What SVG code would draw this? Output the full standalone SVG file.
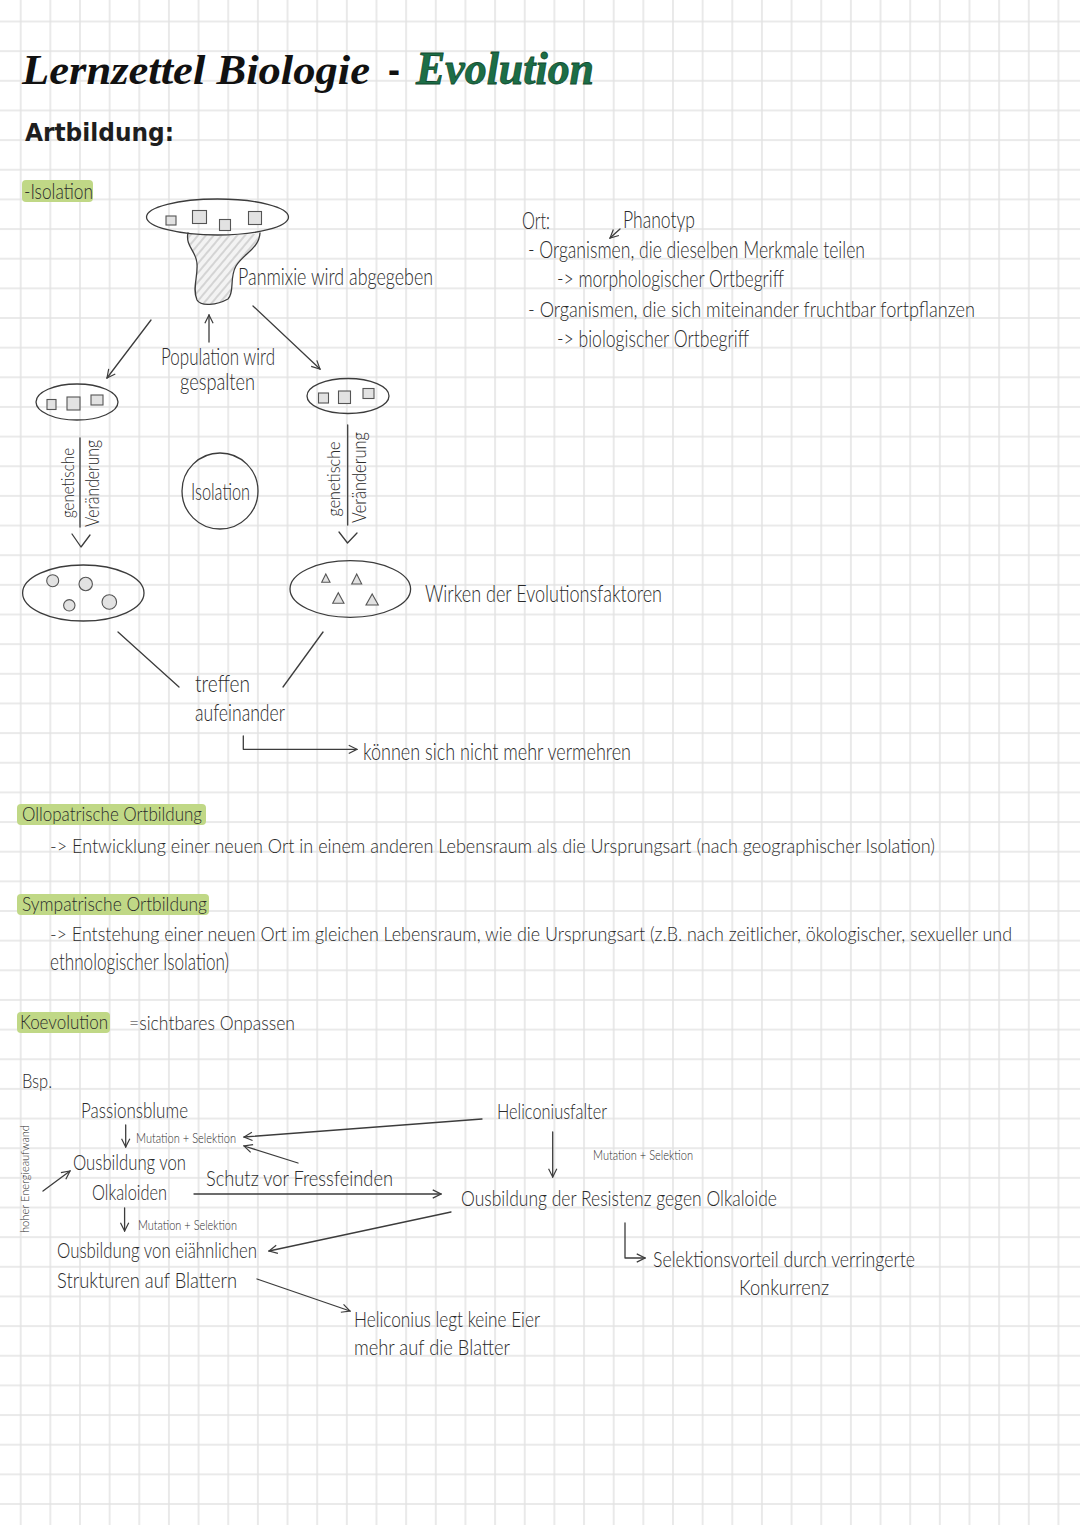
<svg xmlns="http://www.w3.org/2000/svg" width="1080" height="1525" viewBox="0 0 1080 1525">
<defs>
<style>
.t{font-family:Lato,"Open Sans","DejaVu Sans",sans-serif;font-weight:300;fill:#2b2b2b;font-size:23px}
.s{font-size:14px}
.h{font-size:19px}
.ln{stroke:#3c3c3c;stroke-width:1.3;fill:none;stroke-linecap:round;stroke-linejoin:round}
.arr{marker-end:url(#chev)}
.sh{fill:#e2e2e2;stroke:#555;stroke-width:1.1}
.hl{fill:#c0d886}
</style>
<pattern id="grid" x="5.875" y="6.675" width="29.65" height="29.65" patternUnits="userSpaceOnUse">
<path d="M0 14.825H29.65M14.825 0V29.65" stroke="#e3e3e3" stroke-width="1.5" fill="none"/>
</pattern>
<pattern id="hatch" width="6" height="6" patternUnits="userSpaceOnUse" patternTransform="rotate(40)">
<rect width="6" height="6" fill="#f3f3f3"/>
<path d="M3 0V6" stroke="#b5b5b5" stroke-width="1"/>
</pattern>
<marker id="chev" viewBox="0 0 12 12" refX="11" refY="6" markerWidth="11" markerHeight="11" markerUnits="userSpaceOnUse" orient="auto">
<path d="M2,1.5 L11,6 L2,10.5" fill="none" stroke="#3c3c3c" stroke-width="1.3"/>
</marker>
</defs>
<rect width="1080" height="1525" fill="#ffffff"/>
<rect width="1080" height="1525" fill="url(#grid)"/>

<g id="title">
<text x="22" y="84" font-family="'Liberation Serif',serif" font-style="italic" font-weight="bold" font-size="42" fill="#111" textLength="348" lengthAdjust="spacingAndGlyphs">Lernzettel Biologie</text>
<text x="388" y="82" font-family="'Liberation Sans',sans-serif" font-weight="bold" font-size="36" fill="#111">-</text>
<text x="416" y="84" font-family="'Liberation Serif',serif" font-style="italic" font-weight="bold" font-size="46" fill="#1c6e47" stroke="#0f4a2e" stroke-width="0.8" textLength="178" lengthAdjust="spacingAndGlyphs">Evolution</text>
</g>
<g id="heading-artbildung">
<text x="25" y="141" font-family="'DejaVu Sans',sans-serif" font-weight="bold" font-size="25" fill="#1e1e1e" textLength="149" lengthAdjust="spacingAndGlyphs">Artbildung:</text>
</g>
<g id="label-isolation">
<rect class="hl" x="22" y="180" width="71" height="22" rx="4"/>
<text class="t" x="24" y="199" style="font-size:21px" textLength="69" lengthAdjust="spacingAndGlyphs">-Isolation</text>
</g>

<g id="population-top">
<path d="M188,233 C185,246 197,252 197,264 C198,277 192,289 197,300 C201,307 217,305 228,299 C235,292 229,278 236,266 C243,254 259,249 260,233 Q224,238 188,233 Z" fill="url(#hatch)"/>
<path class="ln" d="M188,233 C185,246 197,252 197,264 C198,277 192,289 197,300 C201,307 217,305 228,299 C235,292 229,278 236,266 C243,254 259,249 260,233"/>
<ellipse class="ln" cx="217.5" cy="217" rx="71" ry="18"/>
<rect class="sh" x="166" y="216" width="10" height="9"/>
<rect class="sh" x="192.5" y="210.5" width="14" height="13"/>
<rect class="sh" x="219.5" y="219.5" width="11" height="11"/>
<rect class="sh" x="248.5" y="211.5" width="13" height="13"/>
<text class="t" x="238" y="285" textLength="195" lengthAdjust="spacingAndGlyphs">Panmixie wird abgegeben</text>
</g>
<g id="label-population">
<text class="t" x="161" y="365" textLength="114" lengthAdjust="spacingAndGlyphs">Population wird</text>
<text class="t" x="180" y="390" textLength="75" lengthAdjust="spacingAndGlyphs">gespalten</text>
</g>
<g id="population-left">
<ellipse class="ln" cx="77" cy="402" rx="41" ry="18"/>
<rect class="sh" x="47" y="399.5" width="9" height="10"/>
<rect class="sh" x="67" y="397" width="13" height="13"/>
<rect class="sh" x="91" y="395" width="12" height="10"/>
</g>
<g id="population-right">
<ellipse class="ln" cx="348" cy="396" rx="41" ry="17.5"/>
<rect class="sh" x="318.5" y="393" width="10" height="10"/>
<rect class="sh" x="338.5" y="391" width="12" height="12.5"/>
<rect class="sh" x="363" y="388.5" width="11" height="10"/>
</g>
<g id="isolation">
<circle class="ln" cx="220" cy="491" r="38"/>
<text class="t" x="191" y="500" textLength="59" lengthAdjust="spacingAndGlyphs">Isolation</text>
</g>
<g id="change-left">
<text class="t" style="font-size:17px" transform="translate(74,483) rotate(-90)" text-anchor="middle" textLength="70" lengthAdjust="spacingAndGlyphs">genetische</text>
<text class="t" style="font-size:19px" transform="translate(99,483.5) rotate(-90)" text-anchor="middle" textLength="87" lengthAdjust="spacingAndGlyphs">Veränderung</text>
</g>
<g id="change-right">
<text class="t" style="font-size:17px" transform="translate(340,479) rotate(-90)" text-anchor="middle" textLength="75" lengthAdjust="spacingAndGlyphs">genetische</text>
<text class="t" style="font-size:19px" transform="translate(366,477.5) rotate(-90)" text-anchor="middle" textLength="91" lengthAdjust="spacingAndGlyphs">Veränderung</text>
</g>
<g id="species-left">
<ellipse class="ln" cx="83.3" cy="593" rx="60.7" ry="28"/>
<circle class="sh" cx="52.7" cy="580.7" r="6"/>
<circle class="sh" cx="85.7" cy="584" r="6.7"/>
<circle class="sh" cx="69.3" cy="605.3" r="5.7"/>
<circle class="sh" cx="109.3" cy="602" r="7.3"/>
</g>
<g id="species-right">
<ellipse class="ln" cx="350.3" cy="589" rx="60.3" ry="28.3"/>
<polygon class="sh" points="325.8,574 330,582.3 321.7,582.3"/>
<polygon class="sh" points="356.7,574 361.7,584 351.7,584"/>
<polygon class="sh" points="338.3,592.7 344,603.3 332.7,603.3"/>
<polygon class="sh" points="372.2,594 378.3,605 366,605"/>
</g>
<g id="label-evolutionsfaktoren">
<text class="t" x="425" y="602" textLength="237" lengthAdjust="spacingAndGlyphs">Wirken der Evolutionsfaktoren</text>
</g>
<g id="label-treffen">
<text class="t" x="195" y="692" textLength="55" lengthAdjust="spacingAndGlyphs">treffen</text>
<text class="t" x="195" y="721" textLength="90" lengthAdjust="spacingAndGlyphs">aufeinander</text>
</g>
<g id="label-vermehren">
<text class="t" x="363" y="760" textLength="268" lengthAdjust="spacingAndGlyphs">können sich nicht mehr vermehren</text>
</g>

<g id="art-definition">
<text class="t" x="522" y="229" textLength="28" lengthAdjust="spacingAndGlyphs">Ort:</text>
<text class="t" x="623" y="228" textLength="72" lengthAdjust="spacingAndGlyphs">Phanotyp</text>
<text class="t" x="528" y="258" textLength="337" lengthAdjust="spacingAndGlyphs">- Organismen, die dieselben Merkmale teilen</text>
<text class="t" x="557" y="287" textLength="227" lengthAdjust="spacingAndGlyphs">-&gt; morphologischer Ortbegriff</text>
<text class="t" x="528" y="317" style="font-size:21.5px" textLength="447" lengthAdjust="spacingAndGlyphs">- Organismen, die sich miteinander fruchtbar fortpflanzen</text>
<text class="t" x="557" y="347" textLength="192" lengthAdjust="spacingAndGlyphs">-&gt; biologischer Ortbegriff</text>
</g>

<g id="allopatrisch">
<rect class="hl" x="17" y="804" width="189" height="21" rx="4"/>
<text class="t h" x="22" y="821" textLength="180" lengthAdjust="spacingAndGlyphs">Ollopatrische Ortbildung</text>
<text class="t" x="50" y="853" style="font-size:20.5px" textLength="885" lengthAdjust="spacingAndGlyphs">-&gt; Entwicklung einer neuen Ort in einem anderen Lebensraum als die Ursprungsart (nach geographischer Isolation)</text>
</g>
<g id="sympatrisch">
<rect class="hl" x="17" y="894" width="192" height="21" rx="4"/>
<text class="t h" x="22" y="911" textLength="185" lengthAdjust="spacingAndGlyphs">Sympatrische Ortbildung</text>
<text class="t" x="50" y="941" style="font-size:19px" textLength="962" lengthAdjust="spacingAndGlyphs">-&gt; Entstehung einer neuen Ort im gleichen Lebensraum, wie die Ursprungsart (z.B. nach zeitlicher, ökologischer, sexueller und</text>
<text class="t" x="50" y="970" textLength="179" lengthAdjust="spacingAndGlyphs">ethnologischer Isolation)</text>
</g>
<g id="koevolution">
<rect class="hl" x="17" y="1012" width="93" height="21" rx="4"/>
<text class="t h" x="20" y="1029" textLength="88" lengthAdjust="spacingAndGlyphs">Koevolution</text>
<text class="t" x="129" y="1030" style="font-size:20px" textLength="166" lengthAdjust="spacingAndGlyphs">=sichtbares Onpassen</text>
</g>

<g id="bsp">
<text class="t" x="22" y="1088" style="font-size:20px" textLength="30" lengthAdjust="spacingAndGlyphs">Bsp.</text>
</g>
<g id="energie">
<text class="t" style="font-size:12px" transform="translate(29,1179) rotate(-90)" text-anchor="middle" textLength="108" lengthAdjust="spacingAndGlyphs">hoher Energieaufwand</text>
</g>
<g id="passionsblume">
<text class="t" x="81" y="1118" style="font-size:21px" textLength="107" lengthAdjust="spacingAndGlyphs">Passionsblume</text>
<text class="t s" x="136" y="1143" textLength="100" lengthAdjust="spacingAndGlyphs">Mutation + Selektion</text>
</g>
<g id="alkaloide">
<text class="t" x="73" y="1170" style="font-size:22px" textLength="113" lengthAdjust="spacingAndGlyphs">Ousbildung von</text>
<text class="t" x="92" y="1200" style="font-size:22px" textLength="75" lengthAdjust="spacingAndGlyphs">Olkaloiden</text>
<text class="t s" x="138" y="1230" textLength="99" lengthAdjust="spacingAndGlyphs">Mutation + Selektion</text>
</g>
<g id="schutz">
<text class="t" x="206" y="1186" style="font-size:22px" textLength="187" lengthAdjust="spacingAndGlyphs">Schutz vor Fressfeinden</text>
</g>
<g id="strukturen">
<text class="t" x="57" y="1258" style="font-size:22px" textLength="200" lengthAdjust="spacingAndGlyphs">Ousbildung von eiähnlichen</text>
<text class="t" x="57" y="1288" style="font-size:22px" textLength="180" lengthAdjust="spacingAndGlyphs">Strukturen auf Blattern</text>
</g>
<g id="heliconiusfalter">
<text class="t" x="497" y="1119" style="font-size:21px" textLength="110" lengthAdjust="spacingAndGlyphs">Heliconiusfalter</text>
<text class="t s" x="593" y="1160" textLength="100" lengthAdjust="spacingAndGlyphs">Mutation + Selektion</text>
</g>
<g id="resistenz">
<text class="t" x="461" y="1206" style="font-size:22px" textLength="316" lengthAdjust="spacingAndGlyphs">Ousbildung der Resistenz gegen Olkaloide</text>
</g>
<g id="selektionsvorteil">
<text class="t" x="653" y="1267" style="font-size:22px" textLength="262" lengthAdjust="spacingAndGlyphs">Selektionsvorteil durch verringerte</text>
<text class="t" x="739" y="1295" style="font-size:22px" textLength="90" lengthAdjust="spacingAndGlyphs">Konkurrenz</text>
</g>
<g id="keine-eier">
<text class="t" x="354" y="1327" style="font-size:22px" textLength="186" lengthAdjust="spacingAndGlyphs">Heliconius legt keine Eier</text>
<text class="t" x="354" y="1355" style="font-size:22px" textLength="156" lengthAdjust="spacingAndGlyphs">mehr auf die Blatter</text>
</g>

<g id="connectors">
<path class="ln arr" d="M209,342 V315"/>
<path class="ln arr" d="M151,320 L107,378"/>
<path class="ln arr" d="M253,306 L320,369"/>
<path class="ln" d="M80,438 V527"/>
<path class="ln" d="M72,534 L81,547 L90,535"/>
<path class="ln" d="M347.7,425 V525"/>
<path class="ln" d="M339,532 L347.5,543 L357,533"/>
<path class="ln" d="M118,632 L179,687"/>
<path class="ln" d="M323,632 L283,687"/>
<path class="ln arr" d="M243.3,736 V749.3 H357"/>
<path class="ln arr" d="M620,229 L610,238"/>
<path class="ln arr" d="M125.7,1125 V1147"/>
<path class="ln arr" d="M482,1119 L244,1137"/>
<path class="ln arr" d="M298,1163 L244,1146"/>
<path class="ln arr" d="M43,1191 L70,1171"/>
<path class="ln arr" d="M194,1194 H441"/>
<path class="ln arr" d="M124.6,1208 V1231"/>
<path class="ln arr" d="M451,1212 L269,1251"/>
<path class="ln arr" d="M257,1279 L350,1311"/>
<path class="ln arr" d="M552.7,1132 V1177"/>
<path class="ln arr" d="M625,1223 V1258 H645"/>
</g>
</svg>
